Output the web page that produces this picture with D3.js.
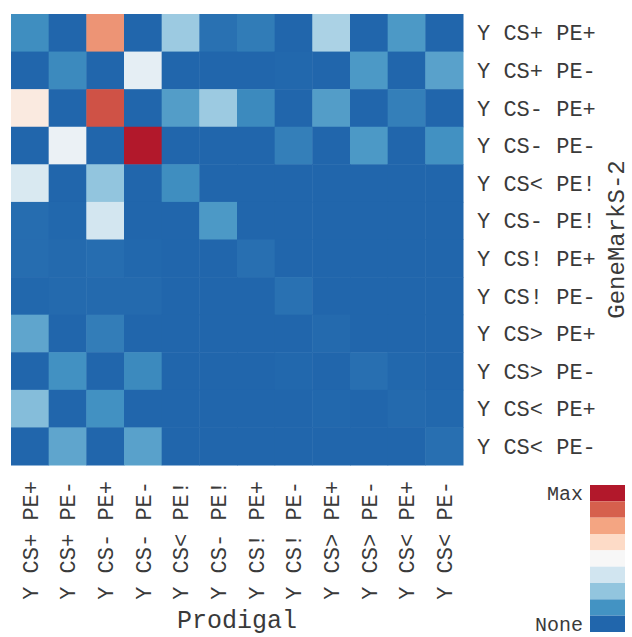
<!DOCTYPE html>
<html>
<head>
<meta charset="utf-8">
<script src="https://cdn.jsdelivr.net/npm/d3@7"></script>
<style>
  html, body { margin: 0; padding: 0; background: #fff; }
  svg text { font-family: "Liberation Mono", "Courier New", monospace; fill: #3a3a3a; }
</style>
</head>
<body>
<svg id="chart" width="632" height="637"></svg>
<script>
// Category labels (same for rows = GeneMarkS-2 and columns = Prodigal)
const rowLabels = ["Y CS+ PE+","Y CS+ PE-","Y CS- PE+","Y CS- PE-","Y CS< PE!","Y CS- PE!",
                   "Y CS! PE+","Y CS! PE-","Y CS> PE+","Y CS> PE-","Y CS< PE+","Y CS< PE-"];
const colLabels = ["Y CS+ PE+","Y CS+ PE-","Y CS- PE+","Y CS- PE-","Y CS< PE!","Y CS- PE!",
                   "Y CS! PE+","Y CS! PE-","Y CS> PE+","Y CS> PE-","Y CS< PE+","Y CS< PE-"];
// Normalised values (0 = None, 1 = Max), row by row
const values = [
  [0.11, 0.00, 0.78, 0.00, 0.27, 0.03, 0.06, 0.00, 0.30, 0.00, 0.14, 0.00],
  [0.00, 0.10, 0.00, 0.44, 0.00, 0.00, 0.00, 0.005,0.00, 0.14, 0.00, 0.16],
  [0.56, 0.00, 0.90, 0.00, 0.15, 0.27, 0.10, 0.00, 0.15, 0.00, 0.07, 0.00],
  [0.00, 0.46, 0.00, 1.00, 0.00, 0.00, 0.00, 0.07, 0.00, 0.14, 0.00, 0.12],
  [0.40, 0.00, 0.25, 0.00, 0.11, 0.00, 0.00, 0.00, 0.00, 0.00, 0.00, 0.00],
  [0.02, 0.005,0.38, 0.00, 0.00, 0.14, 0.00, 0.00, 0.00, 0.00, 0.00, 0.00],
  [0.02, 0.01, 0.02, 0.005,0.00, 0.00, 0.025,0.00, 0.00, 0.00, 0.00, 0.00],
  [0.005,0.01, 0.01, 0.01, 0.00, 0.00, 0.00, 0.03, 0.00, 0.00, 0.00, 0.00],
  [0.17, 0.00, 0.065,0.00, 0.00, 0.00, 0.00, 0.00, 0.01, 0.00, 0.00, 0.00],
  [0.00, 0.12, 0.00, 0.10, 0.00, 0.00, 0.00, 0.005,0.00, 0.025,0.005,0.00],
  [0.23, 0.00, 0.12, 0.00, 0.00, 0.00, 0.00, 0.00, 0.005,0.00, 0.01, 0.005],
  [0.00, 0.17, 0.00, 0.16, 0.00, 0.00, 0.00, 0.00, 0.00, 0.00, 0.00, 0.025]
];
const legendLabels = ["Max", "None"];
const xTitle = "Prodigal";
const yTitle = "GeneMarkS-2";

// Colours: RdBu (reversed), 9 stops from None (blue) to Max (red)
const palette = ["#2166ac","#4393c3","#92c5de","#d1e5f0","#f7f7f7","#fddbc7","#f4a582","#d6604d","#b2182b"];

(function () {
const svg = d3.select("#chart");
const L = 11, R = 463, T = 14, B = 465;

const x = d3.scaleBand().domain(colLabels.map((d, i) => i)).range([L, R]).padding(0);
const y = d3.scaleBand().domain(rowLabels.map((d, i) => i)).range([T, B]).padding(0);
const color = d3.scaleLinear()
  .domain(palette.map((d, i) => i / (palette.length - 1)))
  .range(palette)
  .interpolate(d3.interpolateRgb);

const cells = [];
values.forEach((row, r) => row.forEach((v, c) => cells.push({ r, c, v })));

svg.append("g").selectAll("rect").data(cells).join("rect")
  .attr("x", d => x(d.c))
  .attr("y", d => y(d.r))
  .attr("width", x.bandwidth() + 0.5)
  .attr("height", y.bandwidth() + 0.5)
  .attr("fill", d => color(d.v));

// Row labels (right)
svg.append("g").selectAll("text").data(rowLabels).join("text")
  .attr("x", 477)
  .attr("y", (d, i) => y(i) + y.bandwidth() / 2)
  .attr("dy", "0.35em")
  .style("font-size", "22px")
  .text(d => d);

// Column labels (bottom, rotated)
svg.append("g").selectAll("text").data(colLabels).join("text")
  .attr("transform", (d, i) => `translate(${x(i) + x.bandwidth() / 2},481) rotate(-90)`)
  .attr("text-anchor", "end")
  .attr("dy", "0.35em")
  .style("font-size", "22px")
  .text(d => d);

// Axis titles
svg.append("text")
  .attr("x", (L + R) / 2)
  .attr("y", 628)
  .attr("text-anchor", "middle")
  .style("font-size", "25px")
  .text(xTitle);

svg.append("text")
  .attr("transform", `translate(624,${(T + B) / 2}) rotate(-90)`)
  .attr("text-anchor", "middle")
  .style("font-size", "24px")
  .text(yTitle);

// Legend (discrete colour bar)
const legTop = 485, legBottom = 632, legX = 590, legW = 35;
const ly = d3.scaleBand().domain(d3.range(palette.length)).range([legTop, legBottom]);
const legendColors = palette.slice().reverse();
svg.append("g").selectAll("rect").data(legendColors).join("rect")
  .attr("x", legX)
  .attr("y", (d, i) => ly(i))
  .attr("width", legW)
  .attr("height", ly.bandwidth())
  .attr("fill", d => d);

svg.append("text")
  .attr("x", 583).attr("y", ly(0) + ly.bandwidth() / 2)
  .attr("dy", "0.35em")
  .attr("text-anchor", "end")
  .style("font-size", "20px")
  .text(legendLabels[0]);
svg.append("text")
  .attr("x", 583).attr("y", ly(palette.length - 1) + ly.bandwidth() / 2)
  .attr("dy", "0.35em")
  .attr("text-anchor", "end")
  .style("font-size", "20px")
  .text(legendLabels[1]);
})();
</script>
</body>
</html>
